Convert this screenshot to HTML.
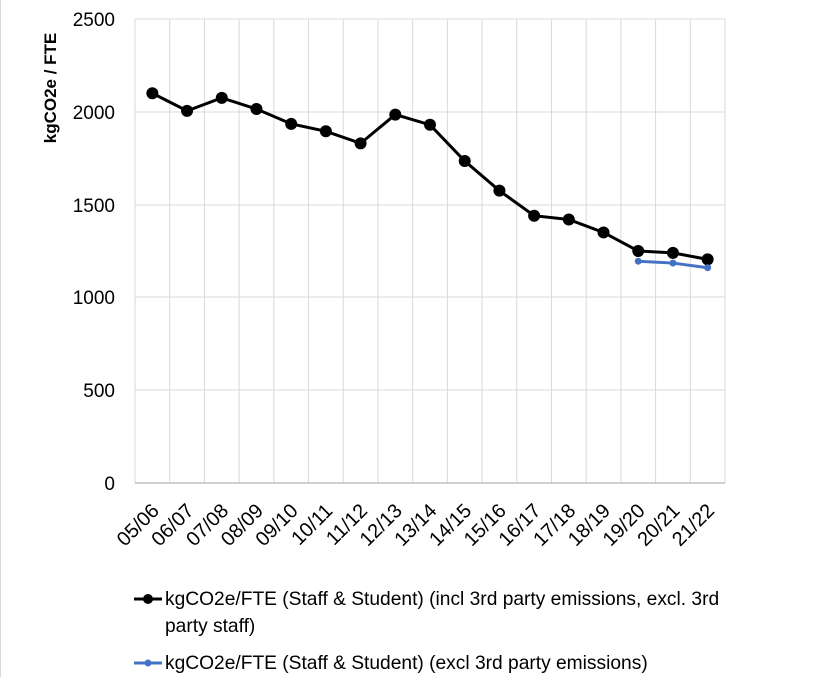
<!DOCTYPE html>
<html><head><meta charset="utf-8"><style>
body{margin:0;background:#fff;}
svg{display:block;font-family:"Liberation Sans",sans-serif;}
</style></head><body>
<svg width="814" height="677" viewBox="0 0 814 677">
<rect x="0" y="0" width="814" height="677" fill="#fff"/>
<line x1="0.5" y1="0" x2="0.5" y2="677" stroke="#d9d9d9"/>
<g stroke="#d9d9d9" stroke-width="1">
<line x1="135" y1="19" x2="725" y2="19"/>
<line x1="135" y1="112" x2="725" y2="112"/>
<line x1="135" y1="205" x2="725" y2="205"/>
<line x1="135" y1="297" x2="725" y2="297"/>
<line x1="135" y1="390" x2="725" y2="390"/>
</g>
<g id="vg" stroke="#d9d9d9" stroke-width="1"></g>
<line x1="135" y1="483" x2="725" y2="483" stroke="#bfbfbf" stroke-width="1.5"/>
<g font-size="19" fill="#000" text-anchor="end">
<text x="115" y="26">2500</text>
<text x="115" y="119">2000</text>
<text x="115" y="212">1500</text>
<text x="115" y="304">1000</text>
<text x="115" y="397">500</text>
<text x="115" y="490">0</text>
</g>
<text transform="translate(56,88) rotate(-90)" font-size="17" font-weight="bold" text-anchor="middle">kgCO2e / FTE</text>
<g id="xl" font-size="20" text-anchor="end"></g>
<polyline id="blk" fill="none" stroke="#000" stroke-width="3"/>
<g id="blkm"></g>
<polyline id="blu" fill="none" stroke="#4472c4" stroke-width="3"/>
<g id="blum"></g>
<line x1="134" y1="599" x2="162" y2="599" stroke="#000" stroke-width="3"/>
<circle cx="148" cy="599" r="5" fill="#000"/>
<text x="165" y="605" font-size="19.2">kgCO2e/FTE (Staff &amp; Student) (incl 3rd party emissions, excl. 3rd</text>
<text x="165" y="632" font-size="19.2">party staff)</text>
<line x1="134" y1="663" x2="162" y2="663" stroke="#4472c4" stroke-width="3"/>
<circle cx="148" cy="663" r="3.5" fill="#4472c4"/>
<text x="165" y="669" font-size="19.2">kgCO2e/FTE (Staff &amp; Student) (excl 3rd party emissions)</text>
</svg>
<script>
var ns="http://www.w3.org/2000/svg",w=590/17;
var labs=["05/06","06/07","07/08","08/09","09/10","10/11","11/12","12/13","13/14","14/15","15/16","16/17","17/18","18/19","19/20","20/21","21/22"];
var blk=[2100,2005,2075,2015,1935,1895,1830,1985,1930,1735,1575,1440,1420,1350,1250,1240,1205];
var blu=[1195,1185,1160];
function Y(v){return 483-v*0.1856;}
function X(i){return 135+w*(i+0.5);}
var vg=document.getElementById("vg"),xl=document.getElementById("xl");
for(var i=0;i<=17;i++){var l=document.createElementNS(ns,"line");var x=135+w*i;l.setAttribute("x1",x);l.setAttribute("x2",x);l.setAttribute("y1",19);l.setAttribute("y2",483);vg.appendChild(l);}
labs.forEach(function(t,i){var e=document.createElementNS(ns,"text");var x=X(i)-2,y=502;e.setAttribute("transform","translate("+x+","+y+") rotate(-45)");e.setAttribute("dy","0.7em");e.textContent=t;xl.appendChild(e);});
var p=blk.map(function(v,i){return X(i)+","+Y(v)}).join(" ");document.getElementById("blk").setAttribute("points",p);
blk.forEach(function(v,i){var c=document.createElementNS(ns,"circle");c.setAttribute("cx",X(i));c.setAttribute("cy",Y(v));c.setAttribute("r",6);document.getElementById("blkm").appendChild(c);});
var q=blu.map(function(v,i){return X(i+14)+","+Y(v)}).join(" ");document.getElementById("blu").setAttribute("points",q);
blu.forEach(function(v,i){var c=document.createElementNS(ns,"circle");c.setAttribute("cx",X(i+14));c.setAttribute("cy",Y(v));c.setAttribute("r",3.5);c.setAttribute("fill","#4472c4");document.getElementById("blum").appendChild(c);});
</script>
</body></html>
